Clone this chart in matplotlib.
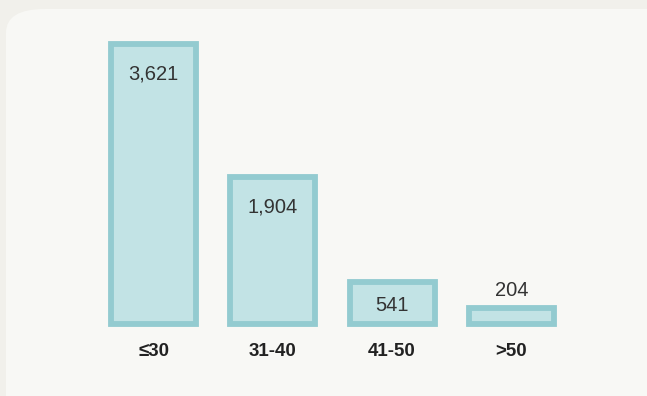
import matplotlib.pyplot as plt
from matplotlib.patches import FancyBboxPatch

groups = ["≤30", "31-40", "41-50", ">50"]
counts = [3621, 1904, 541, 204]

W, H = 647, 396
fig = plt.figure(figsize=(W / 100, H / 100), dpi=100)
fig.patch.set_facecolor("#f1f0eb")

# lighter rounded panel behind the bars
panel = FancyBboxPatch((6 / W, -0.2), 1.2, 1.2 - 9 / H,
                       boxstyle="round,pad=0,rounding_size=0.06",
                       transform=fig.transFigure, facecolor="#f8f8f5",
                       edgecolor="none", zorder=-5)
fig.patches.append(panel)

ax = fig.add_axes([0, 0, 1, 1])
ax.set_facecolor("none")
ax.set_xlim(-1.287, 4.137)
ax.set_ylim(-931, 4191)
ax.axis("off")

x = list(range(len(groups)))
ax.bar(x, counts, width=0.712, color="#c2e3e5", edgecolor="#93cbd0",
       linewidth=4.2, zorder=2)

px_per_unit = H / (4191 + 931)
for xi, v in zip(x, counts):
    h = v * px_per_unit
    if h > 30:
        off = -min(30, h / 2 + 2)
    else:
        off = 18
    ax.annotate(f"{v:,}", (xi, v), xytext=(0, off * 0.72),
                textcoords="offset points", ha="center", va="center",
                fontsize=14.5, color="#333333", family="Liberation Sans",
                zorder=3)
    ax.annotate(groups[xi], (xi, 0), xytext=(0, -27 * 0.72),
                textcoords="offset points", ha="center", va="center",
                fontsize=13.5, fontweight="bold", color="#222222",
                family="Liberation Sans", zorder=3)

fig.savefig("out.png", dpi=100, facecolor=fig.get_facecolor())
